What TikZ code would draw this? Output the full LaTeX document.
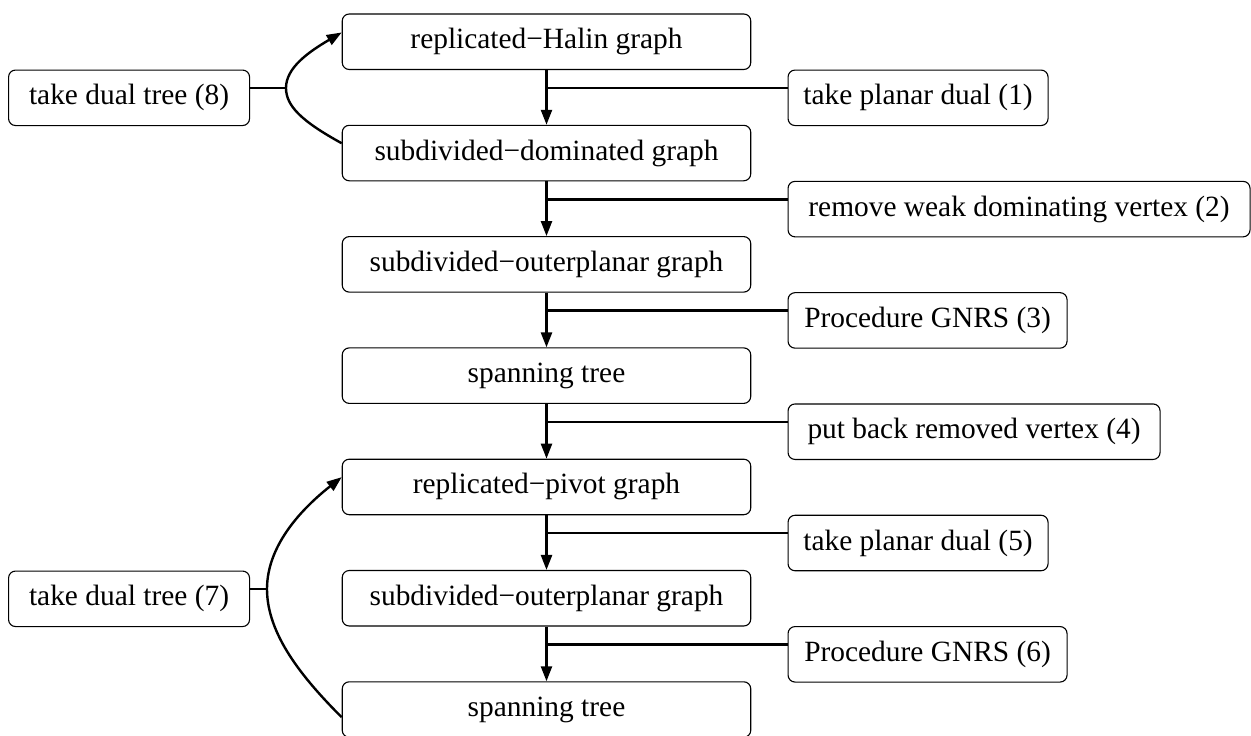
\documentclass[tikz,border=0pt]{standalone}
\usepackage{fontspec}
\setmainfont{Liberation Serif}
\usetikzlibrary{arrows.meta}
\begin{document}
\begin{tikzpicture}[x=1pt,y=-1pt,
  box/.style={draw, line width=1.1pt, rounded corners=7pt, minimum height=55.5pt,
    inner sep=0pt, font=\fontsize{29.4}{35}\selectfont},
  mainbox/.style={box, minimum width=408.5pt},
  sidebox/.style={box, anchor=north west},
  flow/.style={line width=2.4pt},
  arr/.style={flow, -{Triangle[length=15pt,width=11pt]}}]
\useasboundingbox (0,0) rectangle (1251,736);

% main chain of graph classes
\node[mainbox] (m0) at (546.5,41.75)  {replicated−Halin graph};
\node[mainbox] (m1) at (546.5,153.05) {subdivided−dominated graph};
\node[mainbox] (m2) at (546.5,264.35) {subdivided−outerplanar graph};
\node[mainbox] (m3) at (546.5,375.65) {spanning tree};
\node[mainbox] (m4) at (546.5,486.95) {replicated−pivot graph};
\node[mainbox] (m5) at (546.5,598.25) {subdivided−outerplanar graph};
\node[mainbox] (m6) at (546.5,709.55) {spanning tree};

% operations applied between consecutive classes
\node[sidebox, minimum width=260pt] (r1) at (787.5,69.5)  {take planar dual (1)};
\node[sidebox, minimum width=462pt] (r2) at (787.5,180.8) {remove weak dominating vertex (2)};
\node[sidebox, minimum width=279pt] (r3) at (787.5,292.1) {Procedure GNRS (3)};
\node[sidebox, minimum width=372pt] (r4) at (787.5,403.4) {put back removed vertex (4)};
\node[sidebox, minimum width=260pt] (r5) at (787.5,514.7) {take planar dual (5)};
\node[sidebox, minimum width=279pt] (r6) at (787.5,626.0) {Procedure GNRS (6)};

% dual-tree steps on the left
\node[sidebox, minimum width=241pt] (l8) at (8,69.5)  {take dual tree (8)};
\node[sidebox, minimum width=241pt] (l7) at (8,570.5) {take dual tree (7)};

% vertical arrows and the side links joining them
\foreach \i/\j in {0/1,1/2,2/3,3/4,4/5,5/6} {
  \draw[arr] (m\i.south) -- (m\j.north);
  \coordinate (j\j) at ([yshift=-18.5pt]r\j.north west);
  \draw[flow] (j\j) -- (j\j -| m\i.south);
}

% dual-tree loops
\coordinate (k8) at (286,88);
\draw[flow] (l8.north east |- k8) -- (k8);
\draw[arr] ([yshift=-18.5pt]m1.north west) .. controls +(-40,-22) and +(0,18) .. (k8)
  .. controls +(0,-20) and +(-34,20) .. ([yshift=-19pt]m0.north west);

\coordinate (k7) at (267,589);
\draw[flow] (l7.north east |- k7) -- (k7);
\draw[arr] ([yshift=-36pt]m6.north west) .. controls +(-40,-40) and +(0,45) .. (k7)
  .. controls +(0,-45) and +(-38,30) .. ([yshift=-18.5pt]m4.north west);
\end{tikzpicture}
\end{document}
